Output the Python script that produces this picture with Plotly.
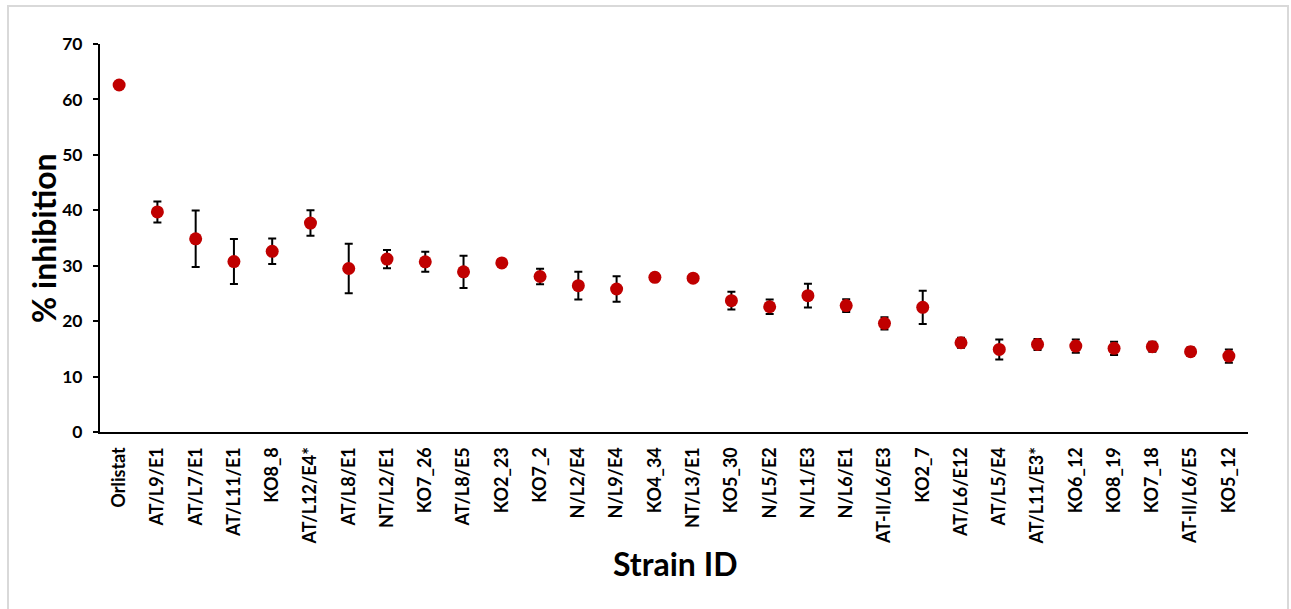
import plotly.graph_objects as go

# Strain IDs, mean % inhibition and standard deviation
strains = [
    "Orlistat", "AT/L9/E1", "AT/L7/E1", "AT/L11/E1", "KO8_8", "AT/L12/E4*",
    "AT/L8/E1", "NT/L2/E1", "KO7_26", "AT/L8/E5", "KO2_23", "KO7_2",
    "N/L2/E4", "N/L9/E4", "KO4_34", "NT/L3/E1", "KO5_30", "N/L5/E2",
    "N/L1/E3", "N/L6/E1", "AT-II/L6/E3", "KO2_7", "AT/L6/E12", "AT/L5/E4",
    "AT/L11/E3*", "KO6_12", "KO8_19", "KO7_18", "AT-II/L6/E5", "KO5_12",
]
inhibition = [
    62.6, 39.7, 34.85, 30.75, 32.6, 37.7,
    29.5, 31.2, 30.7, 28.9, 30.5, 28.05,
    26.4, 25.8, 27.9, 27.75, 23.7, 22.6,
    24.6, 22.8, 19.6, 22.5, 16.1, 14.9,
    15.8, 15.5, 15.1, 15.4, 14.5, 13.7,
]
std_dev = [
    0.0, 1.9, 5.1, 4.05, 2.3, 2.3,
    4.45, 1.65, 1.8, 2.9, 0.6, 1.4,
    2.5, 2.3, 0.7, 0.6, 1.6, 1.3,
    2.15, 1.15, 1.1, 3.0, 0.9, 1.8,
    1.0, 1.2, 1.2, 0.9, 0.8, 1.2,
]
y_ticks = [0, 10, 20, 30, 40, 50, 60, 70]

W, H = 1291, 609
ML, MR, MT, MB = 100, 43, 44, 177
PW, PH = W - ML - MR, H - MT - MB


def px_x(x):
    return (x - ML) / PW


def px_y(y):
    return (H - MB - y) / PH


fig = go.Figure()
fig.add_trace(go.Scatter(
    x=strains,
    y=inhibition,
    mode="markers",
    marker=dict(color="#C00000", size=13, line=dict(width=0)),
    error_y=dict(type="data", array=std_dev, visible=True,
                 color="black", thickness=2, width=4),
    showlegend=False,
))

fig.update_layout(
    width=W, height=H,
    margin=dict(l=ML, r=MR, t=MT, b=MB, pad=0),
    paper_bgcolor="white",
    plot_bgcolor="white",
    xaxis=dict(
        type="category",
        range=[-0.5, len(strains) - 0.5],
        showline=True, linecolor="black", linewidth=2,
        showgrid=False, zeroline=False,
        ticks="", tickangle=-90,
        ticklabelstandoff=6,
        tickfont=dict(family="Lato", size=18, color="black", weight="bold"),
    ),
    yaxis=dict(
        range=[0, 70],
        tickvals=y_ticks,
        showline=True, linecolor="black", linewidth=2,
        showgrid=False, zeroline=False,
        ticks="outside", ticklen=5, tickwidth=2, tickcolor="black",
        ticklabelstandoff=7,
        tickfont=dict(family="Lato", size=17.5, color="black", weight="bold"),
    ),
    annotations=[
        dict(text="% inhibition", xref="paper", yref="paper",
             x=px_x(43), y=px_y(238), textangle=-90, showarrow=False,
             xanchor="center", yanchor="middle",
             font=dict(family="Lato", size=32, color="black", weight="bold")),
        dict(text="Strain ID", xref="paper", yref="paper",
             x=px_x(675), y=px_y(563), showarrow=False,
             xanchor="center", yanchor="middle",
             font=dict(family="Lato", size=32, color="black", weight="bold")),
    ],
    shapes=[
        dict(type="rect", xref="paper", yref="paper",
             x0=px_x(8), x1=px_x(1288), y0=px_y(615), y1=px_y(6),
             line=dict(color="#D9D9D9", width=2), layer="below"),
    ],
)

fig.write_html("out.html")
